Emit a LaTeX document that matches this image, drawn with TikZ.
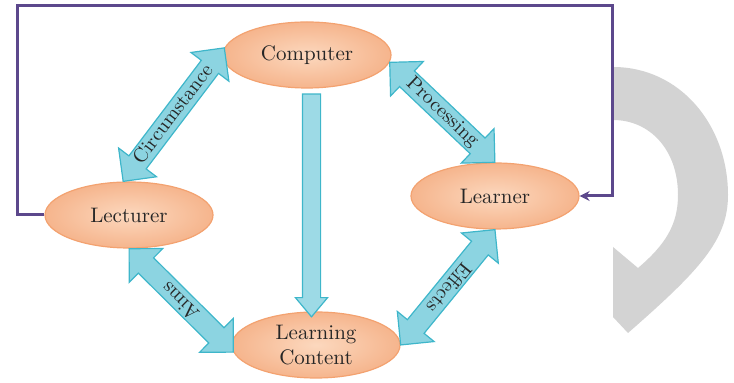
\documentclass[tikz,border=0pt]{standalone}
\usetikzlibrary{shapes.geometric,shapes.arrows,arrows.meta,calc}

\definecolor{peachlight}{RGB}{252,216,190}
\definecolor{peachdark}{RGB}{243,162,112}
\definecolor{tealfill}{RGB}{140,212,225}
\definecolor{tealline}{RGB}{62,182,202}
\definecolor{frameviolet}{RGB}{92,72,140}
\definecolor{greyarc}{RGB}{211,211,211}

% fat two-headed link, text reads from #1 to #2
\newcommand{\fatlink}[3]{%
  \path let \p1=(#1), \p2=(#2),
    \n1={veclen(\x2-\x1,\y2-\y1)}, \n2={atan2(\y2-\y1,\x2-\x1)} in
    node[fatarrow, minimum height=\n1, rotate=\n2] at ($(#1)!.5!(#2)$) {#3};}

\begin{document}
\begin{tikzpicture}[x=0.5pt,y=-0.5pt,
  every node/.style={font=\fontsize{10.5}{12.5}\selectfont, text=black!85},
  topic/.style={ellipse, draw=peachdark, line width=0.6pt,
    inner color=peachlight, outer color=peachdark!80!white,
    minimum width=84pt, minimum height=33pt, inner sep=0pt, align=center},
  fatarrow/.style={double arrow, draw=tealline, fill=tealfill, line width=0.6pt,
    font=\fontsize{10}{12}\selectfont,
    double arrow tip angle=90, double arrow head extend=6.5pt,
    text height=7pt, text depth=2pt, inner xsep=0pt, inner ysep=0.6pt},
  downarrow/.style={single arrow, draw=tealline, fill=tealfill!85!white, line width=0.6pt,
    single arrow tip angle=80, single arrow head extend=3.5pt,
    inner sep=4.25pt, minimum width=0pt},
  frame/.style={draw=frameviolet, line width=1.5pt}]
\useasboundingbox (0,0) rectangle (734,383);

% Grey curved arrow
\fill[greyarc] (613,67) .. controls (680,67) and (728,125) .. (728,195)
  .. controls (728,240) and (700,270) .. (628,333) -- (613,317) -- (613,247)
  -- (638,268) .. controls (665,245) and (678,225) .. (678,195)
  .. controls (678,150) and (650,120) .. (613,120) -- cycle;

% Topics
\node[topic] (Computer) at (307,55) {Computer};
\node[topic] (Lecturer) at (129,215) {Lecturer};
\node[topic] (Learner) at (495,196) {Learner};
\node[topic] (Content) at (316,345) {Learning\\Content};

% Feedback frame
\coordinate (tl) at (17,6);
\coordinate (tr) at (612,6);
\draw[frame, -{Stealth[length=5pt,width=5pt]}] (Lecturer.west) -| (tl) -- (tr) |- (Learner.east);

% Links
\fatlink{Lecturer.100}{Computer.175}{Circumstance}
\fatlink{Computer.-5}{Learner.north}{Processing}
\fatlink{Content.185}{Lecturer.south}{Aims}
\fatlink{Learner.south}{Content.east}{Effects}

% Computer to content
\coordinate (mid) at ($(Computer)!.5!(Content)$);
\path let \p1=(Computer.south -| mid), \p2=(Content.north -| mid),
  \n1={veclen(\x2-\x1,\y2-\y1)} in
  node[downarrow, minimum height=\n1, rotate=-90] at ($(\p1)!.5!(\p2)$) {};
\end{tikzpicture}
\end{document}
